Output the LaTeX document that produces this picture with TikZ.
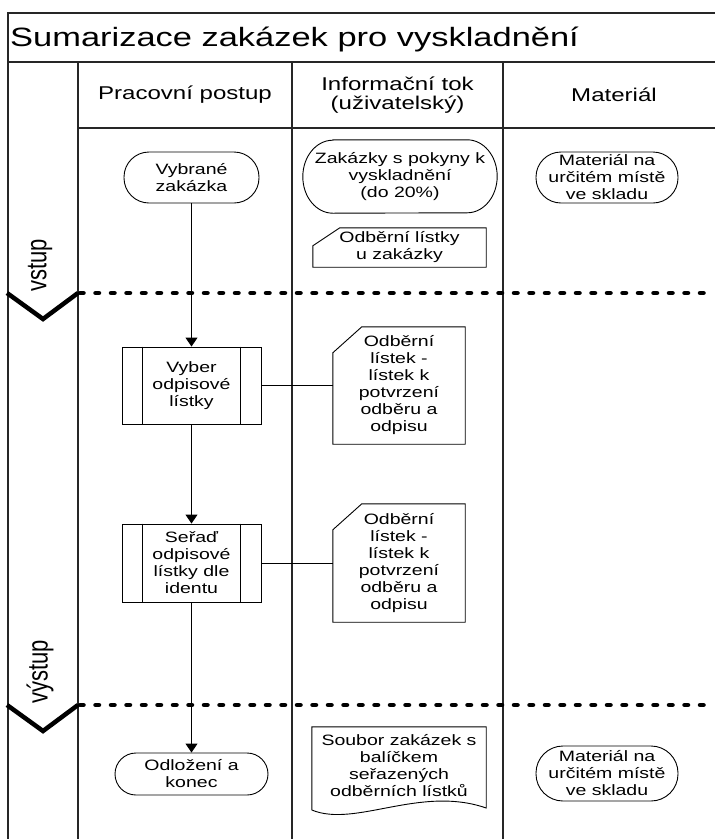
\documentclass[tikz,border=0pt]{standalone}
\usepackage{fontspec}
\usepackage{graphicx}
\setmainfont{Liberation Sans}[FakeStretch=1.3]
\newfontfamily\lanefont{Liberation Sans}
\usetikzlibrary{arrows.meta}

\begin{document}
\begin{tikzpicture}[x=1pt,y=-1pt,
  frame/.style={line width=1.3pt, draw=black!85},
  shapeline/.style={line width=0.9pt, draw=black},
  txt/.style={font=\fontsize{15}{17}\selectfont, align=center, inner sep=0pt},
  head/.style={font=\fontsize{18.5}{19.5}\selectfont, align=center, inner sep=0pt},
  terminal/.style={txt, shapeline, rounded corners=#1},
  procbox/.style={txt, shapeline, minimum width=139pt, minimum height=78pt},
  lanelabel/.style={rotate=90, anchor=west, inner sep=0pt,
    font=\lanefont\fontsize{22}{24}\selectfont},
  chevron/.style={line width=4.5pt, line join=miter, draw=black},
  phaseline/.style={line width=4.5pt, line cap=round, dash pattern=on 3.5pt off 12pt,
    dash phase=-2pt, draw=black},
  flow/.style={line width=0.9pt, -{Triangle[length=9pt,width=12pt]}},
  link/.style={line width=0.9pt}
]
\useasboundingbox (0,0) rectangle (715,839);

% swimlane frame
\draw[frame] (715,13) -- (8,13) -- (8,839);
\draw[frame] (8,62) -- (715,62);
\draw[frame] (78,128) -- (715,128);
\draw[frame] (78,62) -- (78,839);
\draw[frame] (292,62) -- (292,839);
\draw[frame] (503,62) -- (503,839);

% title and column headers
\node[anchor=base west, inner sep=0pt, font=\fontsize{26.5}{30}\selectfont]
  (title) at (10,46) {Sumarizace zakázek pro vyskladnění};
\node[head] (hwork) at (185,95) {Pracovní postup};
\node[head] (hinfo) at (397.5,95) {Informační tok\\(uživatelský)};
\node[head] (hmat) at (614,95) {Materiál};

% phase separators
\draw[chevron] (7,293) -- (43,319) -- (78,293);
\draw[phaseline] (78,293) -- (715,293);
\draw[chevron] (7,705) -- (43,731) -- (78,705);
\draw[phaseline] (78,705) -- (715,705);
\node[lanelabel] (lanein) at (40,292) {\scalebox{1}[1.3]{vstup}};
\node[lanelabel] (laneout) at (40,704) {\scalebox{1}[1.3]{výstup}};

% input phase
\node[terminal=25pt, draw, minimum width=135pt, minimum height=51pt]
  (start) at (191.5,177.5) {Vybrané\\zakázka};
\node[txt, minimum width=194pt, minimum height=73pt]
  (orders) at (400,176.5) {Zakázky s pokyny k\\vyskladnění\\(do 20\%)};
\draw[shapeline] ([xshift=30pt]orders.north west) -- ([xshift=-30pt]orders.north east)
  arc[start angle=90, end angle=-90, x radius=30pt, y radius=36.5pt]
  -- ([xshift=30pt]orders.south west)
  arc[start angle=270, end angle=90, x radius=30pt, y radius=36.5pt] -- cycle;
\node[terminal=25pt, draw, minimum width=142pt, minimum height=51pt]
  (mat1) at (607,177.5) {Materiál na\\určitém místě\\ve skladu};
\node[txt, minimum width=173pt, minimum height=39pt]
  (slips) at (399.5,247.5) {Odběrní lístky\\u zakázky};
\draw[shapeline] ([yshift=-18pt]slips.north west) -- ([xshift=27pt]slips.north west)
  -- (slips.north east) -- (slips.south east) -- (slips.south west) -- cycle;

% processing
\node[procbox, draw, minimum height=77pt] (pick) at (191.5,385.5) {Vyber\\odpisové\\lístky};
\draw[shapeline] ([xshift=21pt]pick.north west) -- ([xshift=21pt]pick.south west);
\draw[shapeline] ([xshift=-21pt]pick.north east) -- ([xshift=-21pt]pick.south east);

\node[txt, minimum width=132pt, minimum height=117pt]
  (doc1) at (399,385.5) {Odběrní\\lístek -\\lístek k\\potvrzení\\odběru a\\odpisu};
\draw[shapeline] ([yshift=-26pt]doc1.north west) -- ([xshift=29pt]doc1.north west)
  -- (doc1.north east) -- (doc1.south east) -- (doc1.south west) -- cycle;

\node[procbox, draw] (sort) at (191.5,563) {Seřaď\\odpisové\\lístky dle\\identu};
\draw[shapeline] ([xshift=21pt]sort.north west) -- ([xshift=21pt]sort.south west);
\draw[shapeline] ([xshift=-21pt]sort.north east) -- ([xshift=-21pt]sort.south east);

\node[txt, minimum width=132pt, minimum height=118pt]
  (doc2) at (399,563) {Odběrní\\lístek -\\lístek k\\potvrzení\\odběru a\\odpisu};
\draw[shapeline] ([yshift=-26pt]doc2.north west) -- ([xshift=29pt]doc2.north west)
  -- (doc2.north east) -- (doc2.south east) -- (doc2.south west) -- cycle;

% output phase
\node[terminal=21pt, draw, minimum width=153pt, minimum height=42pt]
  (done) at (191.5,774) {Odložení a\\konec};
\node[txt, minimum width=174pt, minimum height=78pt]
  (bundle) at (399,766) {Soubor zakázek s\\balíčkem\\seřazených\\odběrních lístků};
\draw[shapeline] ([yshift=-44pt]bundle.west) -- (bundle.north west) -- (bundle.north east)
  -- ([yshift=-42pt]bundle.east)
  .. controls ([shift={(-66pt,-19pt)}]bundle.east) and ([shift={(-131pt,-62pt)}]bundle.east)
  .. ([yshift=-44pt]bundle.west);
\node[terminal=27pt, draw, minimum width=142pt, minimum height=55pt]
  (mat2) at (607,773.5) {Materiál na\\určitém místě\\ve skladu};

% connectors
\draw[flow] (start.south) -- (pick.north);
\draw[flow] (pick.south) -- (sort.north);
\draw[flow] (sort.south) -- (done.north);
\draw[link] (pick.east) -- (doc1.west);
\draw[link] (sort.east) -- (doc2.west);
\end{tikzpicture}
\end{document}
